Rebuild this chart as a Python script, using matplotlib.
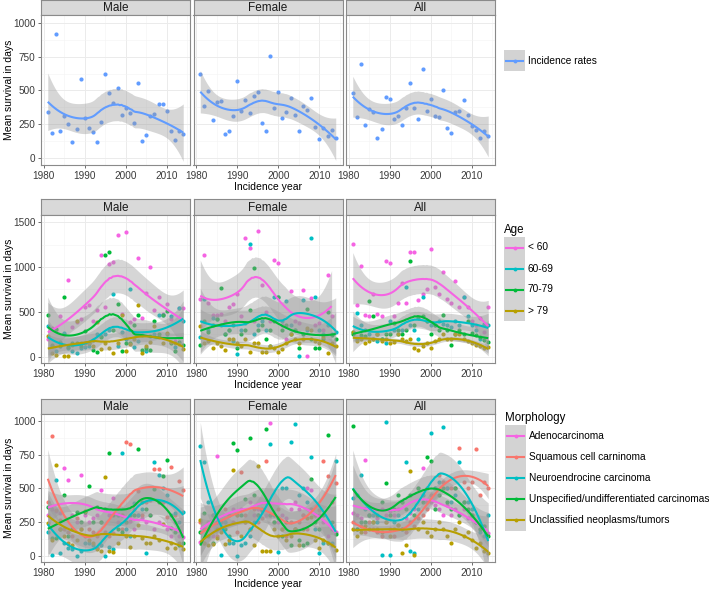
import numpy as np
import matplotlib
matplotlib.use('Agg')
import matplotlib.pyplot as plt
from matplotlib.patches import Rectangle
from matplotlib.lines import Line2D
from matplotlib.ticker import MultipleLocator

plt.rcParams['font.family'] = ['Liberation Sans', 'DejaVu Sans']

# ---------------- data ----------------
years = list(range(1981, 2015))
panels = ['Male', 'Female', 'All']
NA = np.nan

# Row 1: incidence rates
inc_male = [340, 185, 921, 202, 308, 254, 118, 217, 584, 296, 224, 190, 121, 264, 623, 483, 409,
            515, 315, 372, 333, 259, 552, 123, 170, 313, 325, 399, 401, 345, 202, 130, 197, 177]
inc_female = [623, 387, 497, 283, 411, 419, 177, 197, 310, 569, 345, 431, 332, 461, 490, 259, 202,
              759, 369, 490, 293, 342, 441, 318, 200, 387, 357, 446, 232, 140, 222, 165, 204, 148]
inc_all = [480, 300, 697, 241, 365, 340, 145, 212, 451, 436, 286, 310, 241, 369, 552, 367, 286,
           658, 347, 438, 313, 305, 507, 222, 185, 337, 345, 426, 320, 234, 209, 148, 197, 160]

# Row 2: age groups
age_levels = ['< 60', '60-69', '70-79', '> 79']
age_male_lt60 = [200, 321, 300, 458, 260, 850, 330, 390, 420, 560, 576, 400, 520, 1134, 560, 1031, 1057,
                 1352, 480, 1389, 390, 420, 1105, 430, 709, 1005, 517, 672, 480, 584, 420, 180, 543, 543]
age_male_6069 = [347, 120, 63, 170, 266, 100, 63, 44, 100, 110, 120, 190, 260, 230, 260, 300, 698,
                 120, 280, 200, 754, 110, 180, 240, 63, 230, 260, 469, 469, 250, 451, 110, 543, 395]
age_male_7079 = [469, 129, 310, 120, 665, 110, 150, 150, 120, 285, 150, 80, 60, 220, 1131, 1171, 300,
                 591, 70, 150, 150, 350, 469, 80, 100, 80, 395, 250, 469, 506, 150, 70, 170, 129]
age_male_gt79 = [236, 44, 26, 150, 15, 15, 130, 395, 150, 160, 150, 120, 384, 90, 160, 100, 44,
                 150, 469, 70, 140, 200, 580, 44, 120, 170, 340, 220, 150, 266, 170, 150, 140, 89]
age_female_lt60 = [640, 1134, 600, 469, 469, 480, 400, 560, 591, 700, 450, 1326, 1216, 400, 1404, 800, 500,
                   400, 1079, 1049, 350, 200, 728, 400, 380, 739, 15, 654, 350, 380, 300, 913, 450, NA]
age_female_6069 = [222, 643, 300, 432, 421, 360, 250, 300, 180, 33, 300, 380, 1253, 250, 350, 400, 300,
                   120, 665, 665, 400, 617, 350, 300, 15, 636, 300, 1327, 665, 300, 250, 350, 260, 273]
age_female_7079 = [137, 400, 280, 350, 420, 765, 250, 300, 350, 100, 250, 300, 525, 987, 300, 360, 200,
                   300, 400, 665, 300, 350, 250, 300, 100, 250, 532, 200, 100, 100, 200, 495, 248, 200]
age_female_gt79 = [340, 150, 180, 100, 150, 120, 80, 200, 200, 150, 120, 200, 60, 150, 150, 50, 60,
                   120, 100, 50, 90, 150, 250, 200, 150, 200, 321, 303, 180, 150, 220, 40, 150, 120]
age_all_lt60 = [1253, 580, 1012, 469, 450, 698, 480, 460, 1068, 1042, 450, 598, 820, 600, 1164, 1164, 636,
                700, 750, 1205, 780, 700, 942, 640, 600, 846, 560, 665, 554, 400, 350, 432, 280, 550]
age_all_6069 = [273, 488, 350, 300, 250, 200, 180, 200, 150, 395, 300, 260, 300, 783, 350, 300, 200,
                665, 400, 350, 357, 400, 370, 350, 330, 400, 350, 665, 450, 350, 300, 200, 370, 350]
age_all_7079 = [250, 200, 240, 230, 617, 451, 250, 200, 250, 260, 380, 300, 250, 300, 1068, 350, 432,
                450, 400, 260, 350, 300, 469, 300, 130, 250, 300, 250, 400, 270, 240, 220, 190, 170]
age_all_gt79 = [280, 180, 200, 150, 180, 200, 250, 180, 200, 150, 170, 250, 200, 180, 200, 100, 80,
                120, 150, 100, 180, 200, 250, 200, 200, 250, 250, 200, 180, 150, 130, 120, 100, 110]

# Row 3: morphology
morph_levels = ['Adenocarcinoma', 'Squamous cell carninoma', 'Neuroendrocine carcinoma',
                'Unspecified/undifferentiated carcinomas', 'Unclassified neoplasms/tumors']
m_male_adeno = [300, 350, 330, 320, 648, 561, 300, 250, 596, 300, 250, 280, 300, 487, 350, 300, 430,
                250, 300, 250, 260, 200, 300, 280, 250, 300, 200, 250, 400, 200, 150, 250, 150, 140]
m_male_squam = [401, 889, 340, 270, 200, 180, 150, 278, 200, 150, 200, 180, 150, 250, 180, 150, 170,
                300, 200, 845, 825, 350, 480, 300, 400, 414, 645, 645, 400, 290, 660, 300, 554, 488]
m_male_neuro = [180, 10, 561, 25, 100, 60, 50, 0, 40, 100, 100, 80, 60, 80, 0, 70, 50,
                300, 763, 200, 150, 390, 300, 350, 20, 420, 697, 600, 500, 450, 300, 320, 250, 325]
m_male_unspec = [360, 130, 130, 200, 450, 150, 200, 325, 250, 325, 517, 250, 360, 250, 350, 763, 300,
                 200, 180, 250, 300, 300, 788, 400, 350, 300, 493, 400, 591, 709, 204, 180, 81, 94]
m_male_uncl = [246, 120, 672, 200, 150, 100, 80, 120, 200, 333, 120, 100, 50, 40, 586, 40, 30,
               100, 303, 150, 70, 150, 230, 130, 100, 100, 150, 120, 240, 60, 100, 60, 100, 55]
m_female_adeno = [106, 200, 250, 150, 739, 200, 250, 300, 350, 300, 350, 250, 400, 300, 350, 330, 300,
                  985, 300, 250, 300, 280, 350, 400, 350, 300, 500, 490, 300, 300, 250, 150, 200, 180]
m_female_squam = [250, 100, 200, 300, 150, 200, 350, 300, 250, 180, 623, 300, 200, 350, 250, 280, 705,
                  300, 250, 350, 200, 150, 250, 200, 250, 300, 200, 350, 300, 340, 702, 594, 400, 542]
m_female_neuro = [815, 697, 400, 300, 250, 7, 250, 100, 100, 0, 80, 100, 150, 250, 300, 350, 400,
                  825, 300, 30, 500, 500, 845, 973, 450, 500, 400, 734, 200, 25, 100, 100, 100, 705]
m_female_unspec = [180, 315, 150, 100, 200, 250, 200, 150, 837, 783, 300, 419, 869, 450, 300, 340, 936,
                   300, 250, 280, 150, 250, 80, 200, 120, 80, 100, 569, 250, 200, 300, 894, 250, 163]
m_female_uncl = [266, 100, 80, 90, 130, 180, 90, 120, 635, 300, 150, 250, 200, 80, 667, 40, 40,
                 40, 200, 150, 200, 120, 150, 200, 80, 200, 280, 290, 120, 60, 120, 100, 80, 44]
m_all_adeno = [315, 300, 280, 709, 300, 350, 280, 350, 300, 330, 300, 350, 400, 280, 320, 350, 500,
               648, 400, 400, 380, 350, 300, 380, 300, 350, 300, 350, 280, 300, 250, 200, 220, 167]
m_all_squam = [250, 200, 220, 180, 250, 200, 180, 150, 250, 200, 150, 230, 200, 180, 250, 220, 280,
               300, 350, 450, 500, 600, 550, 500, 500, 500, 800, 550, 500, 550, 790, 450, 550, 500]
m_all_neuro = [430, 450, 600, 350, 300, 300, 250, 5, 993, 5, 250, 300, 200, 692, 40, 20, 350,
               450, 500, 906, 500, 550, 956, 500, 400, 450, 697, 400, 400, 350, 250, 180, 150, 300]
m_all_unspec = [961, 200, 250, 250, 300, 250, 300, 400, 542, 300, 350, 450, 400, 350, 450, 300, 500,
                400, 734, 702, 350, 450, 500, 400, 350, 500, 300, 400, 350, 300, 250, 200, 220, 150]
m_all_uncl = [200, 150, 180, 220, 200, 250, 200, 180, 250, 150, 200, 230, 20, 80, 628, 10, 200,
              250, 180, 150, 200, 250, 200, 150, 100, 200, 250, 150, 180, 120, 60, 100, 40, 20]

# colours (ggplot hue palette)
c_inc = '#619CFF'
age_colors = ['#F564E3', '#00BFC4', '#00BA38', '#B79F00']
morph_colors = ['#F564E3', '#F8766D', '#00BFC4', '#00BA38', '#B79F00']

row1 = [[inc_male], [inc_female], [inc_all]]
row2 = [[age_male_lt60, age_male_6069, age_male_7079, age_male_gt79],
        [age_female_lt60, age_female_6069, age_female_7079, age_female_gt79],
        [age_all_lt60, age_all_6069, age_all_7079, age_all_gt79]]
row3 = [[m_male_adeno, m_male_squam, m_male_neuro, m_male_unspec, m_male_uncl],
        [m_female_adeno, m_female_squam, m_female_neuro, m_female_unspec, m_female_uncl],
        [m_all_adeno, m_all_squam, m_all_neuro, m_all_unspec, m_all_uncl]]


# ---------------- loess (degree 2, span 0.75) with 95% CI ----------------
def loess(x, y, xe, span=0.75):
    x = np.asarray(x, float)
    y = np.asarray(y, float)
    n = len(x)
    q = int(np.floor(n * span))

    def rowL(x0):
        d = np.abs(x - x0)
        h = np.sort(d)[q - 1] * 1.0001
        u = np.clip(d / h, 0, 1)
        w = (1 - u ** 3) ** 3
        X = np.vstack([np.ones(n), x - x0, (x - x0) ** 2]).T
        XtW = X.T * w
        return np.linalg.solve(XtW @ X, XtW)[0]

    Ld = np.array([rowL(v) for v in x])
    Le = np.array([rowL(v) for v in xe])
    fit = Le @ y
    R = np.eye(n) - Ld
    M = R.T @ R
    d1 = np.trace(M)
    d2 = np.trace(M @ M)
    res = R @ y
    sigma = np.sqrt(np.sum(res ** 2) / d1)
    se = sigma * np.sqrt(np.sum(Le ** 2, axis=1))
    df = d1 ** 2 / d2
    z = 1.959964
    t = z + (z ** 3 + z) / (4 * df) + (5 * z ** 5 + 16 * z ** 3 + 3 * z) / (96 * df ** 2)
    return fit, fit - t * se, fit + t * se


# ---------------- layout ----------------
W, H = 709, 592
fig = plt.figure(figsize=(W / 100, H / 100), dpi=100)

def fr(l, t, w, h):
    return [l / W, 1 - (t + h) / H, w / W, h / H]

col_left = [41, 193.5, 346]
pw = 149
rows_geom = [  # strip top, plot top, plot bottom
    (0, 15, 165),
    (199, 215, 363),
    (399, 414, 562),
]
ylims = [(-52, 1059), (-67, 1578), (-44, 1050)]
yticks = [[0, 250, 500, 750, 1000], [0, 500, 1000, 1500], [0, 250, 500, 750, 1000]]
yminor = [125, 250, 125]
row_data = [row1, row2, row3]
row_colors = [[c_inc], age_colors, morph_colors]

border_col = '#8A8A8A'

for r in range(3):
    st, pt, pb = rows_geom[r]
    for c in range(3):
        # strip
        sax = fig.add_axes(fr(col_left[c], st, pw, pt - st))
        sax.set_xticks([]); sax.set_yticks([])
        sax.set_facecolor('#D9D9D9')
        for s in sax.spines.values():
            s.set_color(border_col); s.set_linewidth(0.8)
        sax.text(0.5, 0.45, panels[c], ha='center', va='center', fontsize=8.5,
                 color='#1A1A1A', transform=sax.transAxes)

        ax = fig.add_axes(fr(col_left[c], pt, pw, pb - pt))
        ax.set_xlim(1979.35, 2015.65)
        ax.set_ylim(*ylims[r])
        ax.set_xticks([1980, 1990, 2000, 2010])
        ax.xaxis.set_minor_locator(MultipleLocator(5))
        ax.set_yticks(yticks[r])
        ax.yaxis.set_minor_locator(MultipleLocator(yminor[r]))
        ax.grid(which='major', color='#EBEBEB', lw=0.7)
        ax.grid(which='minor', color='#F3F3F3', lw=0.4)
        ax.set_axisbelow(True)
        ax.tick_params(which='major', length=2.5, width=0.6, color='#555555',
                       labelsize=7.2, labelcolor='#3A3A3A', pad=1.5)
        ax.tick_params(which='minor', length=0)
        if c > 0:
            ax.tick_params(axis='y', which='major', length=0, labelleft=False)
        for s in ax.spines.values():
            s.set_color(border_col); s.set_linewidth(0.8)

        series = row_data[r][c]
        cols = row_colors[r]
        # points
        for vals, col in zip(series, cols):
            v = np.asarray(vals, float)
            yr = np.asarray(years, float)
            m = ~np.isnan(v)
            ax.scatter(yr[m], v[m], s=9, color=col, linewidths=0, zorder=2)
        # smooths
        for vals, col in zip(series, cols):
            v = np.asarray(vals, float)
            yr = np.asarray(years, float)
            m = ~np.isnan(v)
            xe = np.linspace(yr[m].min(), yr[m].max(), 80)
            fit, lo, hi = loess(yr[m], v[m], xe)
            ax.fill_between(xe, lo, hi, color='#999999', alpha=0.4, lw=0, zorder=3)
            ax.plot(xe, fit, color=col, lw=1.5, zorder=4, solid_capstyle='butt')

    # axis titles
    fig.text(9 / W, 1 - ((pt + pb) / 2) / H, 'Mean survival in days', rotation=90,
             ha='center', va='center', fontsize=7.5, color='black')
    fig.text((col_left[1] + pw / 2) / W, 1 - (pb + 22) / H, 'Incidence year',
             ha='center', va='center', fontsize=7.5, color='black')


# ---------------- legends ----------------
def key(x, y, col, size=21):
    fig.add_artist(Rectangle((x / W, 1 - (y + size) / H), size / W, size / H,
                             transform=fig.transFigure, facecolor='#D3D3D3', edgecolor='none'))
    cy = 1 - (y + size / 2) / H
    fig.add_artist(Line2D([(x + 2) / W, (x + size - 2) / W], [cy, cy], transform=fig.transFigure,
                          color=col, lw=1.5))
    fig.add_artist(Line2D([(x + size / 2) / W], [cy], transform=fig.transFigure, color=col,
                          marker='o', markersize=2.8, markeredgewidth=0))

# legend 1
key(504, 50, c_inc)
fig.text(528 / W, 1 - 61 / H, 'Incidence rates', ha='left', va='center', fontsize=7.3)

# legend 2
fig.text(504 / W, 1 - 230 / H, 'Age', ha='left', va='center', fontsize=8.3)
for i, (lab, col) in enumerate(zip(age_levels, age_colors)):
    y0 = 237 + i * 21
    key(504, y0, col)
    fig.text(528 / W, 1 - (y0 + 10.5) / H, lab, ha='left', va='center', fontsize=7.3)

# legend 3
fig.text(505 / W, 1 - 418 / H, 'Morphology', ha='left', va='center', fontsize=8.3)
for i, (lab, col) in enumerate(zip(morph_levels, morph_colors)):
    y0 = 425 + i * 21.2
    key(505, y0, col, size=21.2)
    fig.text(529 / W, 1 - (y0 + 10.6) / H, lab, ha='left', va='center', fontsize=7.3)

fig.savefig('out.png', dpi=100)
